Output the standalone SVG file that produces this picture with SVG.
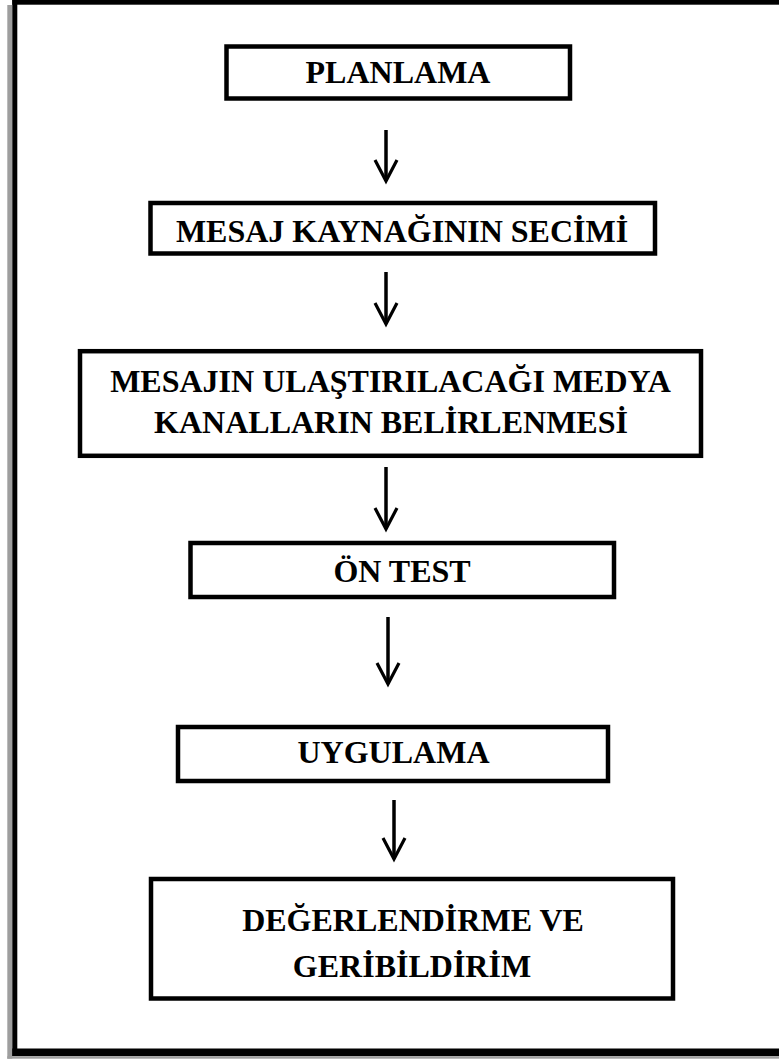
<svg xmlns="http://www.w3.org/2000/svg" width="779" height="1059" viewBox="0 0 779 1059">
<style>
.box{fill:#fff;stroke:#000;stroke-width:4.5}
.t{font-family:"Liberation Serif","Times New Roman",serif;font-weight:bold;font-size:32px;fill:#000;text-anchor:middle}
.arr{stroke:#000;stroke-width:3.5;fill:none;marker-end:url(#chev)}
</style>
<defs>
<marker id="chev" viewBox="-25 -15 30 30" markerWidth="30" markerHeight="30" refX="0" refY="0" orient="auto" markerUnits="userSpaceOnUse">
<path d="M-21,-11 L0,0 L-21,11" fill="none" stroke="#000" stroke-width="3.2"/>
</marker>
</defs>
<rect x="0" y="0" width="779" height="1059" fill="#fff"/>
<g id="frame">
<rect x="7.3" y="5" width="5" height="1053.7" fill="#9e9e9e"/>
<rect x="7.3" y="1056.3" width="772" height="2.4" fill="#9e9e9e"/>
<rect x="12.3" y="0" width="767" height="4.7" fill="#000"/>
<rect x="12.3" y="0" width="5" height="1056" fill="#000"/>
<rect x="12.3" y="1048.5" width="767" height="7.6" fill="#000"/>
</g>
<g id="connectors">
<line class="arr" x1="386" y1="130" x2="386" y2="181"/>
<line class="arr" x1="386" y1="272" x2="386" y2="324"/>
<line class="arr" x1="386" y1="467" x2="386" y2="529"/>
<line class="arr" x1="388" y1="617" x2="388" y2="684"/>
<line class="arr" x1="394" y1="800" x2="394" y2="859"/>
</g>
<g id="n1"><rect class="box" x="226.5" y="46.5" width="343.5" height="52"/><text class="t" x="398" y="83">PLANLAMA</text></g>
<g id="n2"><rect class="box" x="150.5" y="203" width="504.5" height="50.5"/><text class="t" x="402" y="241.7">MESAJ KAYNAĞININ SECİMİ</text></g>
<g id="n3"><rect class="box" x="80" y="351.2" width="621" height="104.6"/><text class="t" x="390.5" y="392">MESAJIN ULAŞTIRILACAĞI MEDYA</text><text class="t" x="391" y="432.7">KANALLARIN BELİRLENMESİ</text></g>
<g id="n4"><rect class="box" x="190.5" y="543" width="423.5" height="54"/><text class="t" x="402" y="582">ÖN TEST</text></g>
<g id="n5"><rect class="box" x="178" y="727" width="430" height="54"/><text class="t" x="393.5" y="763">UYGULAMA</text></g>
<g id="n6"><rect class="box" x="151" y="879" width="522" height="119.5"/><text class="t" x="413" y="931">DEĞERLENDİRME VE</text><text class="t" x="412" y="977">GERİBİLDİRİM</text></g>
</svg>
